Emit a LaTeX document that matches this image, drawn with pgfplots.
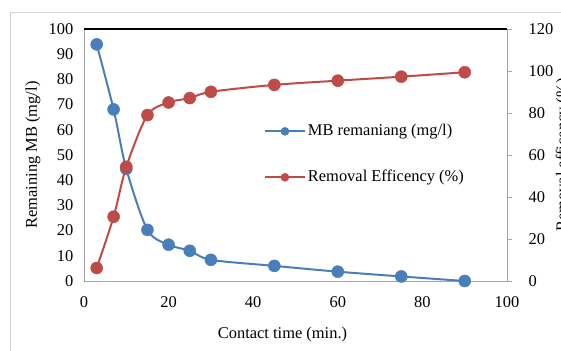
\documentclass[border=0pt]{standalone}
\usepackage{pgfplots}
\pgfplotsset{compat=1.18}
\usetikzlibrary{calc}
\usepackage{fontspec}
\setmainfont{Liberation Serif}
\definecolor{xblue}{HTML}{4A7EBB}
\definecolor{xred}{HTML}{BE4B48}
\begin{document}
\fontsize{16.5}{19}\selectfont
\begin{tikzpicture}
\useasboundingbox (-84bp,-70bp) rectangle (477bp,281bp);
\draw[black!18, line width=1bp] (-73bp,-90bp) rectangle (500bp,268bp);
\pgfplotsset{
  common/.style={
    scale only axis, width=423bp, height=252bp,
    xmin=0, xmax=100,
    /pgf/number format/assume math mode=true,
    ticklabel style={font=\fontsize{16.5}{19}\selectfont},
    label style={font=\fontsize{16.5}{19}\selectfont},
    axis line style={black!35, line width=0.8bp},
  },
  mbstyle/.style={xblue, line width=2bp, mark=*, mark size=6bp, mark options={fill=xblue, draw=xblue, line width=0.5bp}},
  restyle/.style={xred, line width=2bp, mark=*, mark size=6bp, mark options={fill=xred, draw=xred, line width=0.5bp}},
}
\begin{axis}[common,
  axis x line*=bottom, axis y line*=left,
  ymin=0, ymax=100, ytick={0,10,...,100},
  xtick={0,20,...,100},
  major tick length=0pt,
  xticklabel style={yshift=-10bp},
  yticklabel style={xshift=-5bp},
  xlabel={Contact time (min.)},
  xlabel style={at={($(rel axis cs:0.5,0)+(-13bp,-54bp)$)}, anchor=center},
  ylabel={Remaining MB (mg/l)},
  ylabel style={at={($(rel axis cs:0,0.5)+(-51bp,0bp)$)}, anchor=center},
  clip=false,
]
\addplot[mbstyle, smooth, tension=0.5] coordinates {
(3,93.9) (7,68.1) (10,44.5) (15,20.3) (20,14.4) (25,12.0) (30,8.4) (45,6.0) (60,3.7) (75,1.8) (90,0)
};
\draw[black, line width=1.2bp] (rel axis cs:0,1) -- (rel axis cs:1,1);
\end{axis}
\begin{axis}[common,
  axis x line=none, axis y line*=right,
  ymin=0, ymax=120, ytick={0,20,...,120},
  ytick style={black!35, line width=0.8bp},
  tick align=outside, major tick length=5bp,
  yticklabel style={xshift=11bp},
  ylabel={Removal efficency (\%)},
  ylabel style={at={($(rel axis cs:1,0.5)+(43bp,0bp)$)}, anchor=north},
  legend style={draw=none, fill=none, at={(rel axis cs:0.425,0.63)}, anchor=north west,
    font=\fontsize{16.5}{19}\selectfont, row sep=28bp, inner sep=0pt,
    /tikz/every even column/.append style={column sep=3bp}},
  legend cell align=left,
  legend image code/.code={\draw[#1, mark size=4bp, mark repeat=2, mark phase=2] plot coordinates {(0bp,0bp) (20bp,0bp) (40bp,0bp)};},
  clip=false,
]
\addlegendimage{mbstyle}
\addlegendentry{MB remaniang (mg/l)}
\addplot[restyle, smooth, tension=0.5] coordinates {
(3,6.2) (7,30.6) (10,54.4) (15,79.0) (20,85.0) (25,87.1) (30,90.1) (45,93.4) (60,95.4) (75,97.3) (90,99.4)
};
\addlegendentry{Removal Efficency (\%)}
\end{axis}
\end{tikzpicture}
\end{document}
